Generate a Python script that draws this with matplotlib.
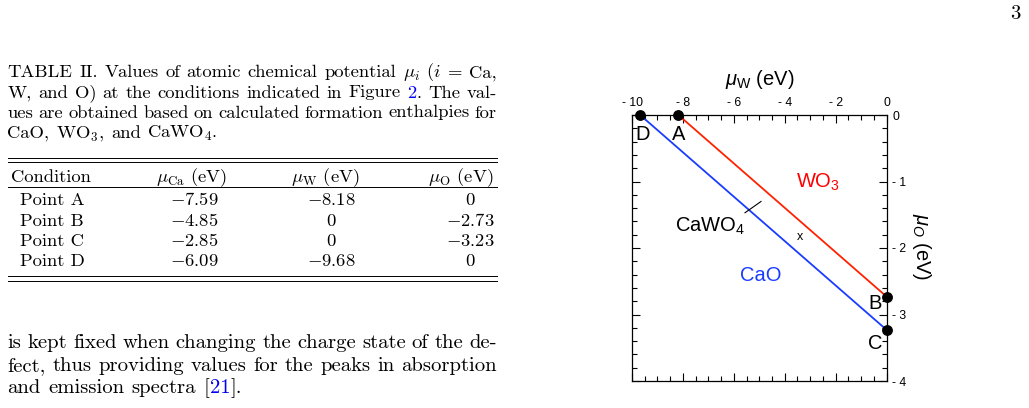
import matplotlib
matplotlib.use('Agg')
import matplotlib.pyplot as plt
from matplotlib.lines import Line2D
from matplotlib.ticker import MultipleLocator, FuncFormatter

plt.rcParams['mathtext.fontset'] = 'cm'
plt.rcParams['mathtext.rm'] = 'Liberation Sans'
plt.rcParams['mathtext.it'] = 'Liberation Sans:italic'
plt.rcParams['mathtext.bf'] = 'Liberation Sans:bold'
plt.rcParams['axes.unicode_minus'] = False

# ---------------- data ----------------
conditions = ['Point A', 'Point B', 'Point C', 'Point D']
point_names = ['A', 'B', 'C', 'D']
mu_Ca = [-7.59, -4.85, -2.85, -6.09]
mu_W = [-8.18, 0.0, 0.0, -9.68]
mu_O = [0.0, -2.73, -3.23, 0.0]
table_headers = ['Condition', r'$\mu_{\rm Ca}$ (eV)', r'$\mu_{\rm W}$ (eV)', r'$\mu_{\rm O}$ (eV)']
phase_labels = ['WO$_3$', 'CaWO$_4$', 'CaO']
# CaWO4 indicator segment and "x" mark (data coords)
indicator_x = [-5.56, -4.93]
indicator_y = [-1.47, -1.30]
mark_x, mark_y = -3.39, -1.83

W, H = 1029, 408
fig = plt.figure(figsize=(W / 100, H / 100), dpi=100)
renderer = fig.canvas.get_renderer()


def fx(px):
    return px / W


def fy(py):
    return 1 - py / H


SERIF = 'cmr10'
BLUE_LINK = '#0000ee'


def measure(s, size):
    t = fig.text(0, 0, s, fontsize=size, family=SERIF)
    w = t.get_window_extent(renderer).width
    t.remove()
    return w


def draw_line(words, x0, x1, ybase, size, justify=True):
    # words: list of str or list of (text, color)
    segs = []
    widths = []
    for w in words:
        if isinstance(w, str):
            w = [(w, 'black')]
        ws = [measure(t, size) for t, c in w]
        segs.append((w, ws))
        widths.append(sum(ws))
    total = sum(widths)
    n = len(words)
    if justify and n > 1:
        gap = (x1 - x0 - total) / (n - 1)
    else:
        gap = 0.36 * size * 100 / 72
    x = x0
    for (w, ws), wd in zip(segs, widths):
        xx = x
        for (t, c), sw in zip(w, ws):
            fig.text(fx(xx), fy(ybase), t, fontsize=size, family=SERIF,
                     color=c, ha='left', va='baseline')
            xx += sw
        x += wd + gap


CAP = 13.4
BODY = 14.9
X0, X1 = 7.5, 496.7

# ---------------- caption ----------------
cap_lines = [
    ['TABLE', 'II.', 'Values', 'of', 'atomic', 'chemical', 'potential', r'$\mu_i$', r'($i$', '=', 'Ca,'],
    ['W,', 'and', 'O)', 'at', 'the', 'conditions', 'indicated', 'in', 'Figure',
     [('2', BLUE_LINK), ('.', 'black')], 'The', 'val-'],
    ['ues', 'are', 'obtained', 'based', 'on', 'calculated', 'formation', 'enthalpies', 'for'],
    ['CaO,', 'WO$_3$,', 'and', 'CaWO$_4$.'],
]
cap_base = [77.3, 97.5, 117.5, 137.5]
for i, (ln, yb) in enumerate(zip(cap_lines, cap_base)):
    draw_line(ln, X0, X1, yb, CAP, justify=(i < len(cap_lines) - 1))

# ---------------- table ----------------
for yy in [158.3, 162.5, 187.0, 276.3, 280.5]:
    fig.add_artist(Line2D([fx(X0), fx(X1)], [fy(yy), fy(yy)], color='black', lw=0.7))

hdr_base = 181.7
fig.text(fx(11), fy(hdr_base), table_headers[0], fontsize=CAP, family=SERIF, ha='left', va='baseline')
fig.text(fx(191.5), fy(hdr_base), table_headers[1], fontsize=CAP, family=SERIF, ha='center', va='baseline')
fig.text(fx(325), fy(hdr_base), table_headers[2], fontsize=CAP, family=SERIF, ha='center', va='baseline')
fig.text(fx(493), fy(hdr_base), table_headers[3], fontsize=CAP, family=SERIF, ha='right', va='baseline')


def fmt(v):
    return '0' if v == 0 else r'$-$' + f'{abs(v):.2f}'


row_base = [205.3, 225.8, 246.0, 266.2]
for name, a, b, c, yb in zip(conditions, mu_Ca, mu_W, mu_O, row_base):
    fig.text(fx(20), fy(yb), name, fontsize=CAP, family=SERIF, ha='left', va='baseline')
    fig.text(fx(194), fy(yb), fmt(a), fontsize=CAP, family=SERIF, ha='center', va='baseline')
    fig.text(fx(331), fy(yb), fmt(b), fontsize=CAP, family=SERIF, ha='center', va='baseline')
    fig.text(fx(470), fy(yb), fmt(c), fontsize=CAP, family=SERIF, ha='center', va='baseline')

# ---------------- body text ----------------
body_lines = [
    ['is', 'kept', 'fixed', 'when', 'changing', 'the', 'charge', 'state', 'of', 'the', 'de-'],
    ['fect,', 'thus', 'providing', 'values', 'for', 'the', 'peaks', 'in', 'absorption'],
    ['and', 'emission', 'spectra', [('[', 'black'), ('21', BLUE_LINK), ('].', 'black')]],
]
body_base = [348.3, 370.8, 393.3]
for i, (ln, yb) in enumerate(zip(body_lines, body_base)):
    draw_line(ln, X0, X1, yb, BODY, justify=(i < len(body_lines) - 1))

# page number
fig.text(fx(1020.5), fy(19.3), '3', fontsize=BODY, family=SERIF, ha='right', va='baseline')

# ---------------- chart ----------------
SANS = 'Liberation Sans'
RED = '#ff2200'
BLUE = '#1a3cff'
ax = fig.add_axes([fx(632), fy(381), (886.5 - 632) / W, (381 - 115) / H])
ax.set_xlim(-10, 0)
ax.set_ylim(-4, 0)

ia, ib, ic, idd = 0, 1, 2, 3
ax.plot([mu_W[ia], mu_W[ib]], [mu_O[ia], mu_O[ib]], color=RED, lw=1.3)
ax.plot([mu_W[idd], mu_W[ic]], [mu_O[idd], mu_O[ic]], color=BLUE, lw=1.3)
ax.plot(mu_W, mu_O, 'o', color='black', ms=6.8, clip_on=False, zorder=5)
ax.plot(indicator_x, indicator_y, color='black', lw=0.8)
ax.text(mark_x, mark_y, 'x', fontsize=9, family=SANS, ha='center', va='center')

# point labels (offsets in points)
offsets = {'A': (0, -14), 'B': (-8, -5), 'C': (-8, -10), 'D': (2, -14)}
for n, xw, yo in zip(point_names, mu_W, mu_O):
    dx, dy = offsets[n]
    ax.annotate(n, (xw, yo), xytext=(dx, dy), textcoords='offset points',
                fontsize=14.5, family=SANS, ha='center', va='center')

ax.text(-2.68, -1.02, phase_labels[0], color='red', fontsize=14.5, family=SANS,
        ha='center', va='center', math_fontfamily='custom')
ax.text(-6.93, -1.67, phase_labels[1], color='black', fontsize=14.5, family=SANS,
        ha='center', va='center', math_fontfamily='custom')
ax.text(-4.96, -2.42, phase_labels[2], color=BLUE, fontsize=14.5, family=SANS,
        ha='center', va='center', math_fontfamily='custom')


def tick_fmt(v, pos):
    return f'- {abs(v):g}' if v < 0 else f'{abs(v):g}'


ax.xaxis.set_major_locator(MultipleLocator(2))
ax.xaxis.set_minor_locator(MultipleLocator(0.5))
ax.yaxis.set_major_locator(MultipleLocator(1))
ax.yaxis.set_minor_locator(MultipleLocator(0.2))
ax.xaxis.set_major_formatter(FuncFormatter(tick_fmt))
ax.yaxis.set_major_formatter(FuncFormatter(tick_fmt))
ax.tick_params(which='both', direction='in', top=True, bottom=True, left=True, right=True,
               labeltop=True, labelbottom=False, labelleft=False, labelright=True,
               width=0.8, labelsize=8.7)
ax.tick_params(which='major', length=6, pad=4)
ax.tick_params(which='minor', length=3.5)
for lab in ax.get_xticklabels() + ax.get_yticklabels():
    lab.set_family(SANS)
for s in ax.spines.values():
    s.set_linewidth(0.9)

ax.xaxis.set_label_position('top')
ax.set_xlabel(r'$\mu_{\rm W}$ (eV)', fontsize=14.5, family=SANS, math_fontfamily='custom',
              va='center', ha='center')
ax.xaxis.set_label_coords(0.503, 1.132)
ax.yaxis.set_label_position('right')
ax.set_ylabel(r'$\mu_O$ (eV)', fontsize=14.5, family=SANS, math_fontfamily='custom',
              rotation=-90, va='center', ha='center')
ax.yaxis.set_label_coords(1.137, 0.504)

fig.savefig('out.png', dpi=100)
